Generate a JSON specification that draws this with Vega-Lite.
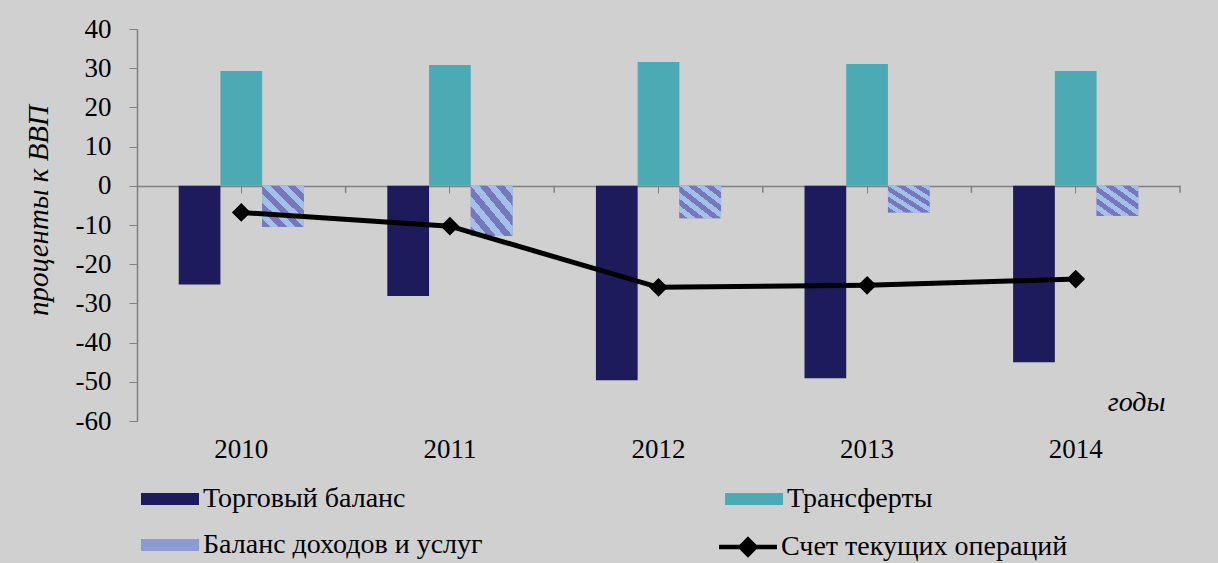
{
  "$schema": "https://vega.github.io/schema/vega-lite/v6.json",
  "autosize": {"type": "none"},
  "padding": {"left": 137, "top": 29, "right": 38, "bottom": 142},
  "width": 1043,
  "height": 392,
  "background": "#d0d0d0",
  "config": {
    "view": {"stroke": null},
    "font": "Liberation Serif",
    "axisY": {"labelOverlap": false}
  },
  "data": {
    "values": [
      {"year": "2010", "series": "Торговый баланс", "value": -25.2},
      {"year": "2011", "series": "Торговый баланс", "value": -28.1},
      {"year": "2012", "series": "Торговый баланс", "value": -49.6},
      {"year": "2013", "series": "Торговый баланс", "value": -49.1},
      {"year": "2014", "series": "Торговый баланс", "value": -45.0},
      {"year": "2010", "series": "Трансферты", "value": 29.3},
      {"year": "2011", "series": "Трансферты", "value": 30.8},
      {"year": "2012", "series": "Трансферты", "value": 31.6},
      {"year": "2013", "series": "Трансферты", "value": 31.1},
      {"year": "2014", "series": "Трансферты", "value": 29.3},
      {"year": "2010", "series": "Баланс доходов и услуг", "value": -10.5},
      {"year": "2011", "series": "Баланс доходов и услуг", "value": -12.8},
      {"year": "2012", "series": "Баланс доходов и услуг", "value": -8.3},
      {"year": "2013", "series": "Баланс доходов и услуг", "value": -6.8},
      {"year": "2014", "series": "Баланс доходов и услуг", "value": -7.7},
      {"year": "2010", "series": "Счет текущих операций", "value": -6.8},
      {"year": "2011", "series": "Счет текущих операций", "value": -10.3},
      {"year": "2012", "series": "Счет текущих операций", "value": -25.9},
      {"year": "2013", "series": "Счет текущих операций", "value": -25.4},
      {"year": "2014", "series": "Счет текущих операций", "value": -23.8}
    ]
  },
  "encoding": {
    "x": {
      "field": "year",
      "type": "ordinal",
      "scale": {"paddingInner": 0, "paddingOuter": 0},
      "axis": {
        "title": "годы",
        "titleFont": "Liberation Serif",
        "titleFontStyle": "italic",
        "titleFontWeight": "normal",
        "titleFontSize": 28,
        "titleColor": "black",
        "titleX": 1028,
        "titleY": 224,
        "titleAlign": "right",
        "titleBaseline": "alphabetic",
        "titleAnchor": null,
        "labelAngle": 0,
        "labelFont": "Liberation Serif",
        "labelFontSize": 27,
        "labelColor": "black",
        "labelPadding": 243,
        "labelBaseline": "top",
        "domainColor": "#808080",
        "domainWidth": 1.5,
        "tickColor": "#808080",
        "tickSize": 7,
        "offset": -235
      }
    },
    "y": {
      "field": "value",
      "type": "quantitative",
      "scale": {"domain": [-60, 40], "nice": false, "zero": false},
      "axis": {
        "values": [-60, -50, -40, -30, -20, -10, 0, 10, 20, 30, 40],
        "labelExpr": "'' + datum.value",
        "labelOverlap": false,
        "grid": false,
        "title": "проценты к ВВП",
        "titleFont": "Liberation Serif",
        "titleFontStyle": "italic",
        "titleFontWeight": "normal",
        "titleFontSize": 29,
        "titleColor": "black",
        "titleX": -99,
        "titleY": 181,
        "titleAlign": "center",
        "titleBaseline": "middle",
        "titleAnchor": null,
        "labelFont": "Liberation Serif",
        "labelFontSize": 27,
        "labelColor": "black",
        "labelPadding": 18,
        "domainColor": "#808080",
        "domainWidth": 1.5,
        "tickColor": "#808080",
        "tickSize": 8
      }
    }
  },
  "layer": [
    {
      "transform": [{"filter": "datum.series !== 'Счет текущих операций'"}],
      "mark": {"type": "bar", "stroke": null},
      "encoding": {
        "xOffset": {
          "field": "series",
          "type": "nominal",
          "scale": {
            "domain": ["Торговый баланс", "Трансферты", "Баланс доходов и услуг"],
            "paddingInner": 0,
            "paddingOuter": 1.04
          }
        },
        "color": {
          "field": "series",
          "type": "nominal",
          "scale": {
            "domain": ["Торговый баланс", "Трансферты", "Баланс доходов и услуг"],
            "range": ["#1d1b5b", "#4caab4", "#8c9bd2"]
          },
          "legend": {
            "orient": "none",
            "legendX": 0,
            "legendY": 456,
            "direction": "horizontal",
            "columns": 2,
            "columnPadding": 238,
            "rowPadding": 18,
            "title": null,
            "labelFont": "Liberation Serif",
            "labelFontSize": 28,
            "labelColor": "black",
            "labelLimit": 600,
            "labelOffset": 38,
            "symbolSize": 400,
            "symbolType": "M-1,-0.6H4.8V0.6H-1Z",
            "symbolStrokeWidth": 0,
            "symbolOpacity": 1
          }
        }
      }
    },
    {
      "transform": [{"filter": "datum.series === 'Баланс доходов и услуг'"}],
      "mark": {
        "type": "bar",
        "fill": {
          "gradient": "linear", "x1": 0, "y1": 1, "x2": 1, "y2": 0,
          "stops": [
            {"offset": 0, "color": "#7777bc"}, {"offset": 0.1, "color": "#7777bc"},
            {"offset": 0.1, "color": "#a2c0e8"}, {"offset": 0.2, "color": "#a2c0e8"},
            {"offset": 0.2, "color": "#7777bc"}, {"offset": 0.3, "color": "#7777bc"},
            {"offset": 0.3, "color": "#a2c0e8"}, {"offset": 0.4, "color": "#a2c0e8"},
            {"offset": 0.4, "color": "#7777bc"}, {"offset": 0.5, "color": "#7777bc"},
            {"offset": 0.5, "color": "#a2c0e8"}, {"offset": 0.6, "color": "#a2c0e8"},
            {"offset": 0.6, "color": "#7777bc"}, {"offset": 0.7, "color": "#7777bc"},
            {"offset": 0.7, "color": "#a2c0e8"}, {"offset": 0.8, "color": "#a2c0e8"},
            {"offset": 0.8, "color": "#7777bc"}, {"offset": 0.9, "color": "#7777bc"},
            {"offset": 0.9, "color": "#a2c0e8"}, {"offset": 1, "color": "#a2c0e8"}
          ]
        }
      },
      "encoding": {
        "xOffset": {"field": "series", "type": "nominal"}
      }
    },
    {
      "transform": [{"filter": "datum.series === 'Счет текущих операций'"}],
      "mark": {
        "type": "line",
        "color": "black",
        "strokeWidth": 5,
        "point": {"shape": "diamond", "size": 256, "filled": true, "opacity": 1, "color": "black"}
      },
      "encoding": {
        "stroke": {
          "field": "series",
          "type": "nominal",
          "scale": {"domain": ["Счет текущих операций"], "range": ["black"]},
          "legend": {
            "orient": "none",
            "legendX": 578,
            "legendY": 504,
            "title": null,
            "labelFont": "Liberation Serif",
            "labelFontSize": 28,
            "labelColor": "black",
            "labelLimit": 600,
            "labelOffset": 38,
            "symbolSize": 400,
            "symbolType": "M-1,0H4.8M1.9,-0.75L2.65,0L1.9,0.75L1.15,0Z",
            "symbolStrokeWidth": 4.5,
            "symbolFillColor": "black",
            "symbolOpacity": 1
          }
        }
      }
    },
    {
      "transform": [{"filter": "datum.series === 'Трансферты'"}],
      "mark": {"type": "rule", "color": "#808080", "strokeWidth": 1.5},
      "encoding": {
        "x": {"field": "year", "type": "ordinal", "bandPosition": 1},
        "y": {"datum": 0},
        "y2": {"datum": -1.8}
      }
    }
  ]
}
